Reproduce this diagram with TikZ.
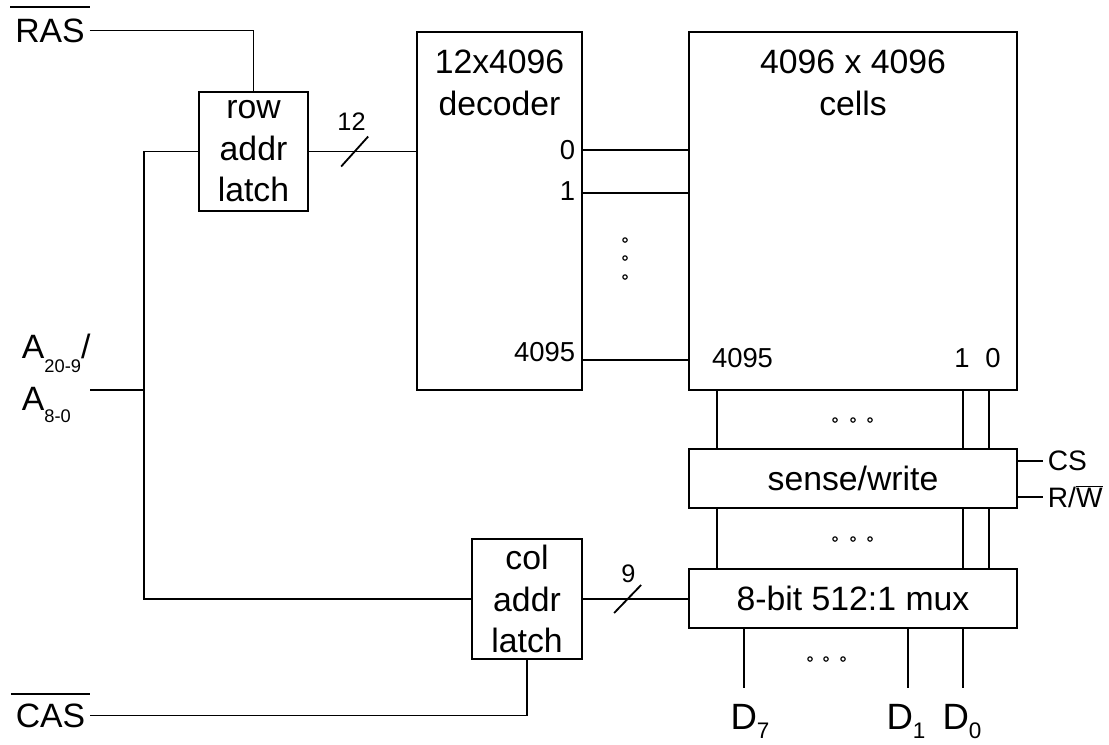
\documentclass[tikz,border=0pt]{standalone}
\usepackage{fontspec}
\setmainfont{Liberation Sans}
\usetikzlibrary{calc}
\newcommand{\lowsub}[3]{\raisebox{-#1}{\fontsize{#2}{#2}\selectfont #3}}

\begin{document}
\begin{tikzpicture}[x=0.025cm, y=-0.025cm, line width=1.3pt,
                    blk/.style={draw, rectangle, inner sep=0pt},
                    big/.style={font=\fontsize{24}{29.5}\selectfont, align=center},
                    sig/.style={font=\fontsize{24}{24}\selectfont, inner xsep=0.1cm, inner ysep=0.275cm},
                    pin/.style={font=\fontsize{19.5}{20}\selectfont, inner sep=0pt},
                    dot/.style={line width=0.8pt}]
                \useasboundingbox (0,0) rectangle (1109,744);
                % blocks
                \node[blk, big, minimum width=2.725cm, minimum height=2.975cm] (rowlatch) at (253.5,151.5) {row\\addr\\latch};
                \node[blk, big, minimum width=2.75cm, minimum height=3cm] (collatch) at (527,599) {col\\addr\\latch};
                \node[blk, minimum width=4.125cm, minimum height=8.95cm] (dec) at (499.5,211) {};
                \node[big] (dectxt) at (499.5,83) {12x4096\\decoder};
                \node[blk, minimum width=8.2cm, minimum height=8.95cm] (cells) at (853,211) {};
                \node[big] (celltxt) at (853,83) {4096 x 4096\\cells};
                \node[blk, big, minimum width=8.2cm, minimum height=1.475cm] (sense) at (853,478.5) {sense/write};
                \node[blk, big, minimum width=8.2cm, minimum height=1.475cm] (mux) at (853,598.5) {8-bit 512:1 mux};
                % control and address inputs
                \node[sig] (ras) at (50,30.5) {RAS};
                \node[sig] (cas) at (50.5,715.5) {CAS};
                \draw (ras.north west) -- (ras.north east);
                \draw ([yshift=-0.05cm]cas.north west) -- ([yshift=-0.05cm]cas.north east);
                \draw (ras.east) -| (rowlatch.north);
                \draw (cas.east) -| (collatch.south);
                \node[anchor=base west, inner sep=0pt, font=\fontsize{24}{24}\selectfont] (ahi) at (21,358) {A\lowsub{10pt}{13}{20-9}/};
                \node[anchor=base west, inner sep=0pt, font=\fontsize{24}{24}\selectfont] (alo) at (21,410) {A\lowsub{9pt}{13}{8-0}};
                \coordinate (ain) at (90,390);
                \coordinate (abus) at (144,390);
                \draw (ain) -- (abus);
                \draw (rowlatch.west) -| (abus) |- (collatch.west);
                % buses with width marks
                \draw (rowlatch.east) -- (rowlatch.east -| dec.west) coordinate[pos=0.427] (s12);
                \draw ([shift={(-13.5,15)}]s12) -- ([shift={(13.5,-15)}]s12);
                \node[pin, font=\fontsize{18}{18}\selectfont] (n12) at (351.5,121.5) {12};
                \draw (collatch.east) -- (collatch.east -| mux.west) coordinate[pos=0.425] (s9);
                \draw ([shift={(-13.5,14)}]s9) -- ([shift={(13.5,-14)}]s9);
                \node[pin, font=\fontsize{18}{18}\selectfont] (n9) at (628.5,574) {9};
                % word lines
                \foreach \n/\y/\ly in {0/150/150, 1/193/191, 4095/360/352}{
                        \draw (dec.east |- 0,\y) -- (cells.west |- 0,\y);
                        \node[pin, anchor=east] (row\n) at (576,\ly) {\n};
                    }
                \node[pin] (c4095) at (742.5,358) {4095};
                \node[pin] (c1) at (962,358) {1};
                \node[pin] (c0) at (993,358) {0};
                % bit lines
                \foreach \x in {717,963,989}{
                        \draw (cells.south -| \x,0) -- (sense.north -| \x,0);
                        \draw (sense.south -| \x,0) -- (mux.north -| \x,0);
                    }
                \node[pin, anchor=west, font=\fontsize{20}{20}\selectfont] (cs) at (1047,461) {CS};
                \node[pin, anchor=west, font=\fontsize{20}{20}\selectfont] (rw) at (1047,497) {R/$\overline{\mbox{W}}$};
                \draw[shorten >=0.1cm] (sense.east |- cs.west) -- (cs.west);
                \draw[shorten >=0.1cm] (sense.east |- rw.west) -- (rw.west);
                % data outputs
                \foreach \n/\x/\tx in {7/744/750, 1/908/906, 0/963/962}{
                        \node[anchor=north, inner sep=0pt, font=\fontsize{26}{26}\selectfont] (d\n) at (\tx,703) {D\lowsub{7pt}{16}{\n}};
                        \draw[shorten >=0.375cm] (mux.south -| \x,0) -- (d\n.north -| \x,0);
                    }
                % ellipsis dots
                \foreach \x/\y in {625/240, 625/258, 625/277, 835/420, 853/420, 870/420,
                                   835/539, 853/539, 870/539, 810/659, 826/659, 843/659}
                        \draw[dot] (\x,\y) circle (0.055cm);
            \end{tikzpicture}
\end{document}
